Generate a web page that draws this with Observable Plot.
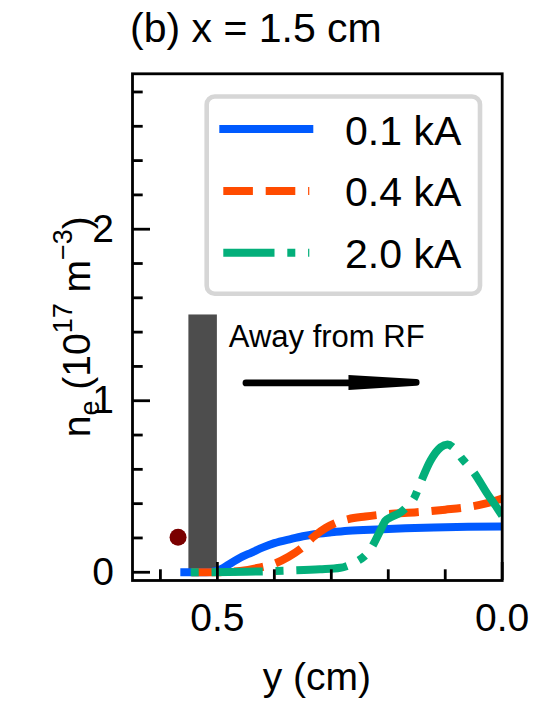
<!DOCTYPE html>
<html>
<head>
<meta charset="utf-8">
<script src="https://cdn.jsdelivr.net/npm/d3@7"></script>
<script src="https://cdn.jsdelivr.net/npm/@observablehq/plot@0.6"></script>
<style>
  html, body { margin: 0; padding: 0; background: #fff; }
  #chart svg { display: block; }
</style>
</head>
<body>
<div id="chart"></div>
<script>
// Discharge currents and their line styles
const currents = ["0.1 kA", "0.4 kA", "2.0 kA"];
const colors = ["#005AFF", "#FF4B00", "#03AF7A"];
const dashes = [null, "29.6,12.8", "51.2,12.8,8,12.8"];

// Electron density profiles at x = 1.5 cm, listed from the centre (y = 0) outward
const pos01 = [0, 0.06, 0.12, 0.17, 0.22, 0.27, 0.30, 0.33, 0.35, 0.37, 0.40, 0.42, 0.44, 0.46, 0.48, 0.50, 0.52, 0.558];
const ne01  = [0.267, 0.265, 0.261, 0.256, 0.250, 0.242, 0.233, 0.222, 0.210, 0.195, 0.170, 0.145, 0.115, 0.085, 0.045, 0.010, 0.0, 0.0];

const pos04 = [0, 0.03, 0.06, 0.10, 0.15, 0.20, 0.24, 0.27, 0.29, 0.31, 0.33, 0.354, 0.375, 0.40, 0.43, 0.46, 0.50, 0.558];
const ne04  = [0.43, 0.40, 0.38, 0.365, 0.35, 0.34, 0.325, 0.31, 0.29, 0.258, 0.21, 0.136, 0.09, 0.05, 0.025, 0.008, 0.0, 0.0];

const pos20 = [0, 0.012, 0.026, 0.05, 0.07, 0.085, 0.096, 0.108, 0.126, 0.143, 0.155, 0.165, 0.178, 0.196, 0.205, 0.214, 0.231, 0.243, 0.254, 0.27, 0.284, 0.32, 0.371, 0.45, 0.558];
const ne20  = [0.33, 0.39, 0.457, 0.583, 0.66, 0.725, 0.745, 0.729, 0.65, 0.525, 0.43, 0.39, 0.35, 0.32, 0.30, 0.243, 0.136, 0.09, 0.065, 0.04, 0.026, 0.017, 0.01, 0.003, 0.0];

// RF antenna footprint (cm) and the drawn height of its bar
const antennaPos = [0.50, 0.55];
const antennaNe = [0, 1.5];

// Single marker point
const markerPos = [0.569];
const markerNe = [0.204];

// "Away from RF" annotation: shaft start, head base, tip, level
const arrowPos = [0.449, 0.269, 0.150];
const arrowNe = 1.104;
const noteText = "Away from RF";
const notePos = 0.48;
const noteNe = 1.37;

// Axis ticks
const xMajor = [0.5, 0.0];
const xMinor = [0.6, 0.4, 0.3, 0.2, 0.1];
const yMajor = [0, 1, 2];
const yMinor = [0.2, 0.4, 0.6, 0.8, 1.2, 1.4, 1.6, 1.8, 2.2, 2.4, 2.6, 2.8];

const xDomain = [0.649, 0];
const yDomain = [-0.048, 2.906];

const series = [
  [pos01, ne01],
  [pos04, ne04],
  [pos20, ne20]
].map(([p, n]) => p.map((v, i) => ({pos: v, ne: n[i]})));

const FONT = "'Liberation Sans', Arial, Helvetica, sans-serif";
const AX = 2.8;

const chart = Plot.plot({
  width: 535,
  height: 711,
  marginLeft: 132,
  marginRight: 33.3,
  marginTop: 73.3,
  marginBottom: 131,
  style: {fontFamily: FONT, fontSize: "39px", background: "white", color: "black", overflow: "visible"},
  x: {domain: xDomain, label: null},
  y: {domain: yDomain, label: null},
  marks: [
    Plot.rect([0], {x1: () => antennaPos[0], x2: () => antennaPos[1], y1: () => antennaNe[0], y2: () => antennaNe[1], fill: "#4d4d4d"}),
    Plot.dot([0], {x: () => markerPos[0], y: () => markerNe[0], r: 8.5, fill: "#7a0000", stroke: "none"}),
    ...series.map((d, i) => Plot.line(d, {
      x: "pos", y: "ne", stroke: colors[i], strokeWidth: 8,
      strokeDasharray: dashes[i] ?? undefined,
      strokeLinecap: i === 0 ? "square" : "butt",
      strokeLinejoin: "round",
      curve: "monotone-x",
      clip: true
    })),
    Plot.ruleY([arrowNe], {x1: arrowPos[0], x2: arrowPos[1], stroke: "black", strokeWidth: 6.7, strokeLinecap: "round"}),
    Plot.text([noteText], {x: notePos, y: noteNe, text: d => d, textAnchor: "start", fontSize: 31, fill: "black"}),
    Plot.axisY(yMinor, {anchor: "left", tickSize: -10.7, strokeWidth: AX, text: null, label: null}),
    Plot.axisY(yMajor, {anchor: "left", tickSize: -18, tickPadding: 36.5, strokeWidth: AX, fontSize: 39, tickFormat: d => String(d), label: null}),
    Plot.axisX(xMinor, {anchor: "bottom", tickSize: -10.7, strokeWidth: AX, text: null, label: null}),
    Plot.axisX(xMajor, {anchor: "bottom", tickSize: -18, tickPadding: 41, strokeWidth: AX, fontSize: 39, tickFormat: d3.format(".1f"), label: null}),
    Plot.frame({stroke: "black", strokeWidth: AX})
  ]
});

const svg = d3.select(chart);
const sx = chart.scale("x"), sy = chart.scale("y");

// Arrowhead: tapered filled wedge pointing away from the antenna
{
  const ya = sy.apply(arrowNe);
  const xb = sx.apply(arrowPos[1]);
  const xt = sx.apply(arrowPos[2]);
  svg.append("path")
    .attr("d", `M${xb},${ya - 7.5}L${xt},${ya - 3.3}A3.3,3.3 0 0 1 ${xt},${ya + 3.3}L${xb},${ya + 7.5}Z`)
    .attr("fill", "black");
}

// Panel title
svg.append("text")
  .attr("x", 130).attr("y", 42)
  .attr("text-anchor", "start")
  .attr("font-family", FONT).attr("font-size", 41).attr("fill", "black")
  .text("(b) x = 1.5 cm");

// x-axis title
svg.append("text")
  .attr("x", 316.8).attr("y", 690)
  .attr("text-anchor", "middle")
  .attr("font-family", FONT).attr("font-size", 39).attr("fill", "black")
  .text("y (cm)");

// y-axis title with sub/superscripts
{
  const t = svg.append("text")
    .attr("transform", "translate(90,326.7) rotate(-90)")
    .attr("text-anchor", "middle")
    .attr("font-family", FONT).attr("font-size", 39).attr("fill", "black");
  t.append("tspan").text("n");
  t.append("tspan").attr("font-size", 27).attr("dy", 9).text("e");
  t.append("tspan").attr("dy", -9).text(" (10");
  t.append("tspan").attr("font-size", 27).attr("dy", -18).text("17");
  t.append("tspan").attr("dy", 18).text(" m");
  t.append("tspan").attr("font-size", 27).attr("dy", -18).text("\u22123");
  t.append("tspan").attr("dy", 18).text(")");
}

// Legend
{
  const g = svg.append("g");
  g.append("rect")
    .attr("x", 206.7).attr("y", 96.5).attr("width", 273.3).attr("height", 197.3)
    .attr("rx", 8).attr("fill", "white").attr("stroke", "#d6d6d6").attr("stroke-width", 4.6);
  currents.forEach((c, i) => {
    const y = 129 + i * 61.9;
    g.append("line")
      .attr("x1", 223.3).attr("x2", 309.3).attr("y1", y).attr("y2", y)
      .attr("stroke", colors[i]).attr("stroke-width", 8)
      .attr("stroke-linecap", i === 0 ? "square" : "butt")
      .attr("stroke-dasharray", dashes[i]);
    g.append("text")
      .attr("x", 345).attr("y", y + 15.5)
      .attr("text-anchor", "start")
      .attr("font-family", FONT).attr("font-size", 41).attr("fill", "black")
      .text(c);
  });
}

document.getElementById("chart").appendChild(chart);
</script>
</body>
</html>
